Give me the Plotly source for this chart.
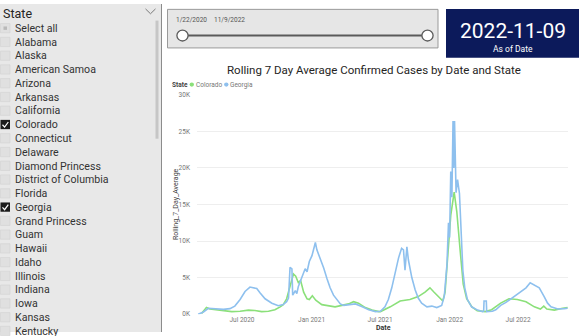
import plotly.graph_objects as go

W, H = 588, 336

# ---------------- data ----------------
states = ["Select all", "Alabama", "Alaska", "American Samoa", "Arizona", "Arkansas",
          "California", "Colorado", "Connecticut", "Delaware", "Diamond Princess",
          "District of Columbia", "Florida", "Georgia", "Grand Princess", "Guam",
          "Hawaii", "Idaho", "Illinois", "Indiana", "Iowa", "Kansas", "Kentucky"]
selected_states = ["Colorado", "Georgia"]

slider_start = "1/22/2020"
slider_end = "11/9/2022"
as_of_date = "2022-11-09"
card_label = "As of Date"
chart_title = "Rolling 7 Day Average Confirmed Cases by Date and State"

co_dates = ["2020-03-16", "2020-03-29", "2020-04-07", "2020-04-21", "2020-05-13", "2020-06-04",
            "2020-06-26", "2020-07-18", "2020-08-04", "2020-08-22", "2020-09-09", "2020-09-26",
            "2020-10-10", "2020-10-18", "2020-10-27", "2020-11-05", "2020-11-14", "2020-11-20",
            "2020-11-27", "2020-12-03", "2020-12-11", "2020-12-20", "2020-12-26", "2021-01-03",
            "2021-01-12", "2021-01-28", "2021-02-15", "2021-03-04", "2021-03-22", "2021-04-09",
            "2021-04-22", "2021-05-05", "2021-05-23", "2021-06-10", "2021-06-28", "2021-07-02",
            "2021-07-28", "2021-08-23", "2021-09-18", "2021-10-10", "2021-10-28", "2021-11-10",
            "2021-11-21", "2021-12-02", "2021-12-14", "2021-12-20", "2021-12-27", "2022-01-04",
            "2022-01-13", "2022-01-20", "2022-01-29", "2022-02-06", "2022-02-15", "2022-03-01",
            "2022-03-15", "2022-04-05", "2022-04-22", "2022-05-16", "2022-06-07", "2022-06-29",
            "2022-07-22", "2022-08-13", "2022-08-29", "2022-09-07", "2022-09-15", "2022-10-05",
            "2022-10-27", "2022-11-09"]
co_values = [100, 900, 700, 600, 500, 350,
             400, 550, 500, 350, 400, 600,
             1000, 1300, 2100, 3900, 5500, 5200,
             4300, 4600, 3000, 2100, 2000, 2500,
             1900, 1300, 1100, 1000, 1200, 1400,
             1700, 1500, 900, 550, 350, 350,
             1000, 1800, 2000, 2400, 3000, 3600,
             3000, 2400, 1800, 3000, 8000, 13500,
             16700, 14000, 8600, 4100, 2100, 1000,
             450, 350, 600, 1500, 2100, 2000,
             1700, 1000, 700, 1100, 700, 550,
             800, 900]

ga_dates = ["2020-03-07", "2020-03-21", "2020-04-03", "2020-04-21", "2020-05-13", "2020-05-30",
            "2020-06-12", "2020-06-26", "2020-07-09", "2020-07-22", "2020-07-31", "2020-08-09",
            "2020-08-18", "2020-08-31", "2020-09-18", "2020-10-05", "2020-10-18", "2020-10-27",
            "2020-11-01", "2020-11-05", "2020-11-10", "2020-11-12", "2020-11-19", "2020-11-23",
            "2020-11-27", "2020-12-06", "2020-12-15", "2020-12-20", "2020-12-26", "2021-01-02",
            "2021-01-11", "2021-01-15", "2021-01-24", "2021-02-02", "2021-02-11", "2021-02-19",
            "2021-02-28", "2021-03-09", "2021-03-18", "2021-03-27", "2021-04-09", "2021-04-27",
            "2021-05-15", "2021-06-01", "2021-06-19", "2021-07-02", "2021-07-14", "2021-07-23",
            "2021-08-01", "2021-08-10", "2021-08-19", "2021-08-27", "2021-09-01", "2021-09-05",
            "2021-09-10", "2021-09-14", "2021-09-23", "2021-10-02", "2021-10-10", "2021-10-19",
            "2021-11-02", "2021-11-15", "2021-11-28", "2021-12-11", "2021-12-18", "2021-12-25",
            "2021-12-29", "2022-01-01", "2022-01-04", "2022-01-07", "2022-01-10", "2022-01-12",
            "2022-01-14", "2022-01-18", "2022-01-22", "2022-01-27", "2022-02-01", "2022-02-05",
            "2022-02-10", "2022-02-17", "2022-02-28", "2022-03-16", "2022-03-29", "2022-04-01",
            "2022-04-02", "2022-04-08", "2022-04-09", "2022-04-24", "2022-05-03", "2022-05-16",
            "2022-05-30", "2022-06-12", "2022-06-25", "2022-07-08", "2022-07-22", "2022-08-02",
            "2022-08-13", "2022-08-26", "2022-09-08", "2022-09-17", "2022-09-26", "2022-10-14",
            "2022-10-31", "2022-11-09"]
ga_values = [0, 300, 800, 750, 650, 750,
             1100, 2000, 3100, 3700, 3600, 3500,
             2900, 2100, 1500, 1150, 1300, 1700,
             2200, 6400, 6200, 2600, 3200, 2800,
             3800, 5000, 6200, 5800, 7200, 8000,
             9800, 8800, 7600, 6300, 4800, 3600,
             2600, 2000, 1400, 1200, 1300, 1400,
             1000, 600, 350, 400, 1000, 2000,
             3600, 5800, 7700, 9000, 8800, 6000,
             9200, 7400, 5000, 3300, 2200, 1500,
             1000, 1100, 900, 1200, 2500, 6800,
             12500, 10500, 19500, 16000, 26400, 20000,
             26400, 16600, 18400, 16500, 10000, 6000,
             3600, 2000, 1000, 550, 350, 400,
             1800, 1800, 350, 400, 600, 1200,
             1600, 2100, 2500, 3000, 3600, 4300,
             4000, 3600, 2400, 1500, 1000, 700,
             750, 800]

y_ticks = [0, 5000, 10000, 15000, 20000, 25000, 30000]
y_tick_labels = ["0K", "5K", "10K", "15K", "20K", "25K", "30K"]
x_ticks = ["2020-07-01", "2021-01-01", "2021-07-01", "2022-01-01", "2022-07-01"]
x_tick_labels = ["Jul 2020", "Jan 2021", "Jul 2021", "Jan 2022", "Jul 2022"]

# ---------------- helpers ----------------
def X(px):
    return px / W

def Y(py):
    return 1 - py / H

shapes = []
annotations = []

def rect(x0, y0, x1, y1, fill, line=None, lw=1):
    shapes.append(dict(type="rect", xref="paper", yref="paper",
                       x0=X(x0), x1=X(x1), y0=Y(y1), y1=Y(y0),
                       fillcolor=fill, line=dict(color=line or fill, width=lw if line else 0)))

def path(pts, color, width=1, fill=None):
    d = "M " + " L ".join(f"{X(a):.5f},{Y(b):.5f}" for a, b in pts)
    shapes.append(dict(type="path", xref="paper", yref="paper", path=d,
                       line=dict(color=color, width=width),
                       fillcolor=fill or "rgba(0,0,0,0)"))

def circle(cx, cy, r, fill, line, lw=1):
    shapes.append(dict(type="circle", xref="paper", yref="paper",
                       x0=X(cx - r), x1=X(cx + r), y0=Y(cy + r), y1=Y(cy - r),
                       fillcolor=fill, line=dict(color=line, width=lw)))

def text(t, x, y, size, color="#333", xanchor="left", family="Roboto, sans-serif", angle=0, bold=False):
    if bold:
        t = f"<b>{t}</b>"
    annotations.append(dict(text=t, x=X(x), y=Y(y), xref="paper", yref="paper",
                            xanchor=xanchor, yanchor="middle", showarrow=False,
                            textangle=angle, borderpad=0,
                            font=dict(size=size, color=color, family=family)))

# ---------------- slicer panel ----------------
rect(0, 0, 161, H, "#e8e8e8")
shapes.append(dict(type="line", xref="paper", yref="paper", x0=X(161.5), x1=X(161.5),
                   y0=0, y1=1, line=dict(color="#8c8c8c", width=1)))
text("State", 2, 9.5, 12.5, "#252423")
path([(145.5, 5), (150.5, 10), (155.5, 5)], "#7a7a7a", 1)
rect(155.5, 17, 158.5, 138, "#c6c6c6")

for i, s in enumerate(states):
    cy = 25 + i * 14.1
    if s in selected_states:
        rect(0.5, cy - 5, 10, cy + 4.5, "#1b1b1b")
        path([(2.5, cy), (4.6, cy + 2.4), (8.3, cy - 2.8)], "#ffffff", 1.2)
    else:
        rect(0.5, cy - 5, 10, cy + 4.5, "#e0e0e0", "#d2d2d2", 0.6)
        if s == "Select all":
            rect(3.5, cy - 2, 7, cy + 1.5, "#b9b9b9")
    text(s, 14, cy, 10.6, "#333333")

# ---------------- date slider ----------------
rect(167.5, 5.5, 438, 45, "#e6e6e6", "#9a9a9a", 1)
text(slider_start, 191.5, 16.5, 6.5, "#555555", xanchor="center")
text(slider_end, 229, 16.5, 6.5, "#555555", xanchor="center")
shapes.append(dict(type="line", xref="paper", yref="paper", x0=X(182.5), x1=X(427.5),
                   y0=Y(32.3), y1=Y(32.3), line=dict(color="#5a5a5a", width=2)))
circle(182.5, 32.3, 5.6, "#ffffff", "#5a5a5a", 1.3)
circle(427.5, 32.3, 5.6, "#ffffff", "#5a5a5a", 1.3)

# ---------------- card ----------------
rect(446, 5, 579, 55, "#0c1a5b")
text(as_of_date, 512.5, 28, 21, "#ffffff", xanchor="center", family="Roboto, sans-serif")
text(card_label, 512.5, 46, 8.5, "#ffffff", xanchor="center")

# ---------------- chart title & legend ----------------
text(chart_title, 374, 67.5, 11.5, "#252423", xanchor="center", family="Roboto, sans-serif")
text("State", 171, 82.5, 6.5, "#444444", bold=True)
circle(191.8, 82.5, 2.2, "#8be07a", "#8be07a", 0)
text("Colorado", 195, 82.5, 6.5, "#777777")
circle(226.3, 82.5, 2.2, "#8ec0ee", "#8ec0ee", 0)
text("Georgia", 229, 82.5, 6.5, "#777777")

# axis titles
text("Rolling_7_Day_Average", 176, 205, 7, "#444444", xanchor="center", angle=-90)
text("Date", 383, 331.5, 7, "#333333", xanchor="center", bold=True)

# ---------------- traces ----------------
fig = go.Figure()
fig.add_trace(go.Scatter(x=co_dates, y=co_values, mode="lines", name="Colorado",
                         line=dict(color="#8be07a", width=1.6), showlegend=False))
fig.add_trace(go.Scatter(x=ga_dates, y=ga_values, mode="lines", name="Georgia",
                         line=dict(color="#8ec0ee", width=1.6), showlegend=False))

fig.update_layout(
    width=W, height=H,
    margin=dict(l=0, r=0, t=0, b=0),
    paper_bgcolor="#ffffff", plot_bgcolor="#ffffff",
    showlegend=False,
    shapes=shapes, annotations=annotations,
    xaxis=dict(domain=[X(197), X(568)], range=["2020-03-04", "2022-11-10"],
               tickvals=x_ticks, ticktext=x_tick_labels, showgrid=False, zeroline=False,
               showline=False, ticks="", tickfont=dict(size=6.5, color="#777777", family="Roboto, sans-serif"),
               ticklabelstandoff=0),
    yaxis=dict(domain=[Y(317.7), Y(93)], range=[0, 30000],
               tickvals=y_ticks, ticktext=y_tick_labels, showgrid=True, gridcolor="#eeeeee",
               gridwidth=1, zeroline=False, showline=False, ticks="",
               tickfont=dict(size=6.5, color="#777777", family="Roboto, sans-serif"),
               ticklabelstandoff=6),
)

fig.write_html("out.html")
